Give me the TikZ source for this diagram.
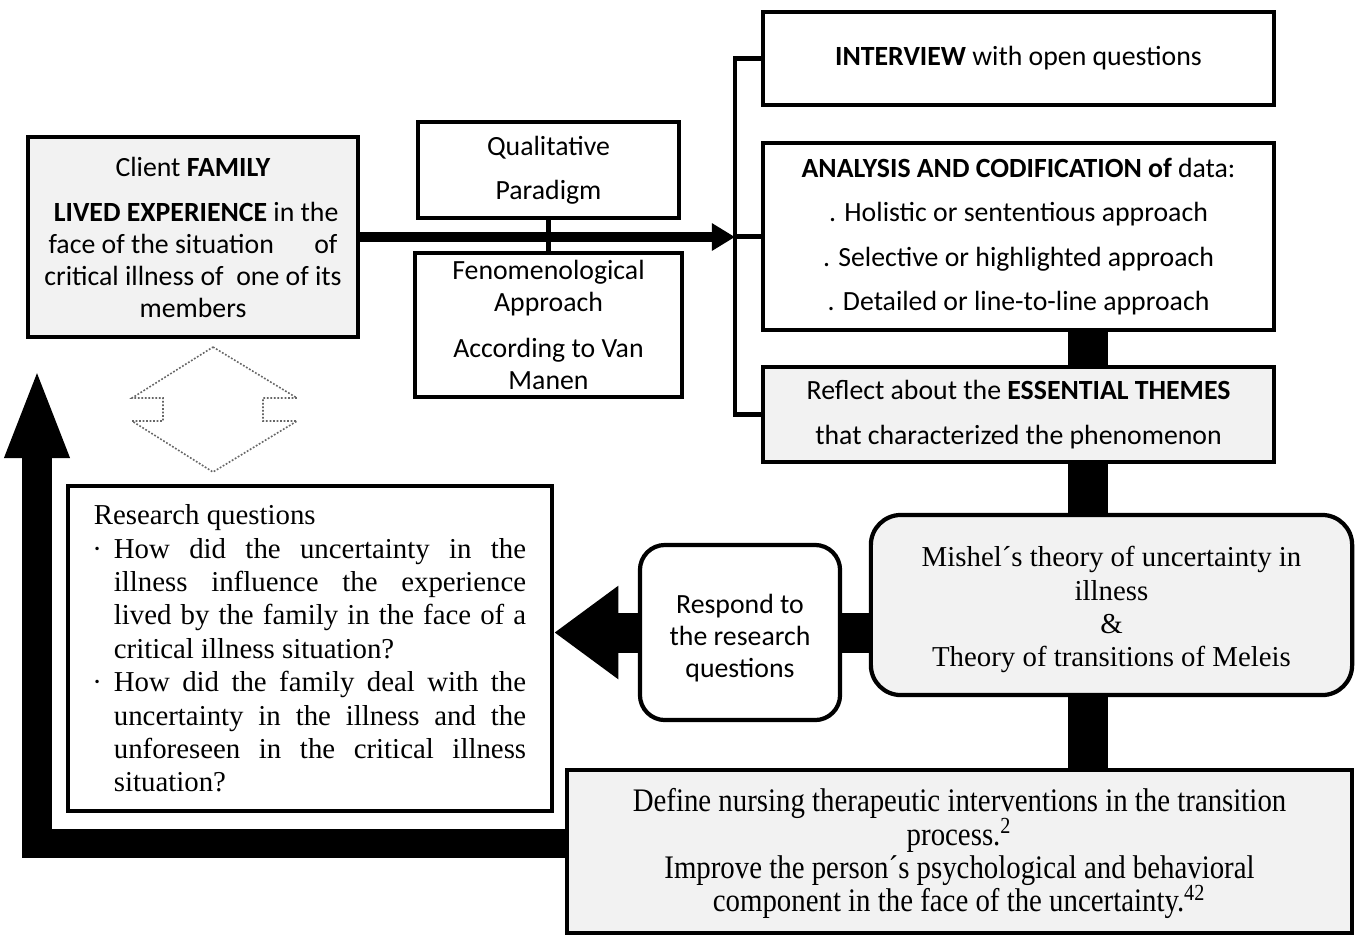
\documentclass[tikz,border=0pt]{standalone}
\usepackage{fontspec}
\setmainfont{Liberation Serif}
\newfontfamily\calib{Carlito}
\usepackage{color}
\usepackage{graphicx}
\usetikzlibrary{arrows.meta}
\definecolor{boxgray}{HTML}{F2F2F2}

\begin{document}
\begin{tikzpicture}[x=0.01cm, y=-0.01cm,
		box/.style={draw, line width=1.2pt, inner sep=0pt, align=center},
		grbox/.style={box, fill=boxgray},
		sans/.style={font=\calib\fontsize{7.9}{9.1}\selectfont},
		sanswide/.style={font=\calib\fontsize{7.9}{12.6}\selectfont},
		serif/.style={font=\fontsize{8.2}{9.5}\selectfont},
		link/.style={line width=1.2pt},
		spine/.style={line width=0.4cm},
		mainarrow/.style={line width=0.1cm, -{Triangle[length=0.23cm, width=0.26cm]}},
		bigarrow/.style={line width=0.4cm, -{Triangle[length=0.64cm, width=0.89cm]}},
		backarrow/.style={line width=0.29cm, line join=miter, -{Triangle[length=0.91cm, width=0.58cm]}}]
				\path[use as bounding box, fill=white] (0,0) rectangle (1358,935);
				% left column
				\node[grbox, sans, minimum width=3.3cm, minimum height=2cm] (family) at (193,237)
					{Client \textbf{FAMILY}\\[3.7pt] \ \textbf{LIVED EXPERIENCE} in the\\ face of the situation \quad\ of\\ critical illness of \ one of its\\ members};
				\node[box, sanswide, minimum width=2.61cm, minimum height=0.96cm] (qual) at (548.5,170) {Qualitative\\ Paradigm};
				\node[box, sans, minimum width=2.67cm, minimum height=1.44cm] (fenom) at (548.5,325)
					{Fenomenological\\ Approach\\[3.9pt] According to Van\\ Manen};
				% right column
				\node[box, sans, minimum width=5.11cm, minimum height=0.93cm] (interview) at (1018.5,58.5) {\textbf{INTERVIEW} with open questions};
				\node[box, sanswide, minimum width=5.11cm, minimum height=1.87cm] (analysis) at (1018.5,236.5)
					{\textbf{ANALYSIS AND CODIFICATION of} data:\\ . Holistic or sententious approach\\ . Selective or highlighted approach\\ . Detailed or line-to-line approach};
				\node[grbox, sanswide, minimum width=5.11cm, minimum height=0.95cm] (reflect) at (1018.5,414.5)
					{Reflect about the \textbf{ESSENTIAL THEMES}\\ that characterized the phenomenon};
				% lower part
				\node[box, serif, minimum width=4.84cm, minimum height=3.25cm, text width=4.32cm, align=justify] (research) at (310,648.5)
					{\hyphenpenalty=10000 Research questions\par
					\leftskip=0.2cm
					\noindent\llap{·\hspace{0.12cm}}How did the uncertainty in the\linebreak illness influence the experience\linebreak lived by the family in the face of a\linebreak critical illness situation?\par
					\leftskip=0.2cm
					\noindent\llap{·\hspace{0.12cm}}How did the family deal with the\linebreak uncertainty in the illness and the\linebreak unforeseen in the critical illness\linebreak situation?\par};
				\node[box, rounded corners=0.25cm, sans, minimum width=2cm, minimum height=1.75cm] (respond) at (740,632.5)
					{\rule{0pt}{8.8pt}Respond to\\ the research\\ questions};
				\node[grbox, rounded corners=0.3cm, serif, minimum width=4.81cm, minimum height=1.8cm] (mishel) at (1111.5,605)
					{\rule{0pt}{8.5pt}Mishel´s theory of uncertainty in\\ illness\\ \&\\ Theory of transitions of Meleis};
				\node[grbox, minimum width=7.85cm, minimum height=1.63cm] (define) at (959.5,851.5)
					{\scalebox{1}[1.14]{\fontsize{8.2}{8.35}\selectfont\begin{tabular}{@{}c@{}}\rule{0pt}{7.6pt}Define nursing therapeutic interventions in the transition\\ process.\smash{\textsuperscript{2}}\\ Improve the person´s psychological and behavioral\\ component in the face of the uncertainty.\smash{\textsuperscript{42}}\end{tabular}}};
				% connectors
				\coordinate (bt) at (735,0);
				\coordinate (sp) at (1088,0);
				\coordinate (ltip) at (37,367);
				\draw[link] (qual.south) -- (fenom.north);
				\draw[link] (interview.west) -- (interview.west -| bt) -- (reflect.west -| bt) -- (reflect.west);
				\draw[link] (analysis.west) -- (analysis.west -| bt);
				\draw[mainarrow] (family.east) -- (family.east -| bt);
				\draw[spine] (analysis.south -| sp) -- (reflect.north -| sp);
				\draw[spine] (reflect.south -| sp) -- (mishel.north -| sp);
				\draw[spine] (mishel.south -| sp) -- (define.north -| sp);
				\draw[spine] (respond.east) -- (respond.east -| mishel.west);
				\draw[bigarrow] (respond.west) -- (research.east |- respond.west);
				\draw[backarrow] ([yshift=0.085cm]define.west) -| (ltip);
				% dotted double arrow
				\draw[black!60, line width=0.45pt, dash pattern=on 0.5pt off 0.5pt] (213,347) -- (297,398) -- (263,398) -- (263,421) -- (297,421) -- (213,472)
					-- (132,421) -- (163,421) -- (163,398) -- (132,398) -- cycle;
\end{tikzpicture}
\end{document}
